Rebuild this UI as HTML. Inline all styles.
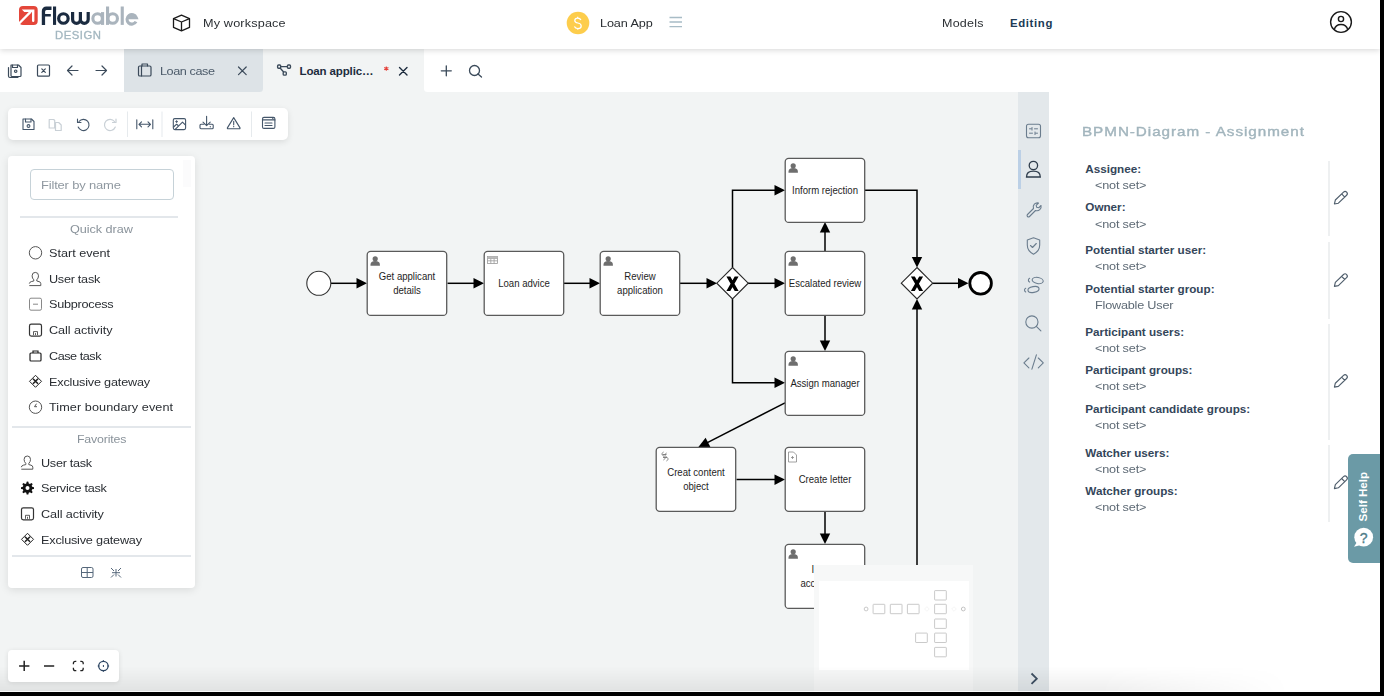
<!DOCTYPE html>
<html><head><meta charset="utf-8">
<style>
*{box-sizing:border-box;margin:0;padding:0}
html,body{width:1384px;height:696px;overflow:hidden;background:#000;font-family:"Liberation Sans",sans-serif}
.abs{position:absolute}
#app{position:absolute;left:0;top:0;width:1380px;height:692px;background:#f2f4f4;overflow:hidden}
.t{position:absolute;white-space:nowrap;line-height:1}
svg{position:absolute;overflow:visible}
.ic{fill:none;stroke:#3b4a5a;stroke-width:1.3;stroke-linecap:round;stroke-linejoin:round}
.li{position:absolute;left:0;width:186px;height:20px}
.li .t{font-size:12.6px;color:#2a2e33;top:4px}
.lbl{position:absolute;left:1085px;font-size:11.7px;color:#2f3f50;font-weight:bold;white-space:nowrap;line-height:1}
.val{position:absolute;left:1094.8px;font-size:12.2px;color:#5e6a75;white-space:nowrap;line-height:1}
.sep{position:absolute;left:1328px;width:1.5px;background:#eef0f1}
</style></head><body>
<div id="app">

<!-- canvas diagram -->
<svg id="diagram" style="left:0;top:0" width="1380" height="692" viewBox="0 0 1380 692">
<polyline points="331.0,283.3 360.0,283.3" fill="none" stroke="#000" stroke-width="1.5"/>
<polygon points="367.0,283.3 356.5,278.1 356.5,288.6" fill="#000"/>
<polyline points="447.5,283.3 477.0,283.3" fill="none" stroke="#000" stroke-width="1.5"/>
<polygon points="484.0,283.3 473.5,278.1 473.5,288.6" fill="#000"/>
<polyline points="563.5,283.3 593.0,283.3" fill="none" stroke="#000" stroke-width="1.5"/>
<polygon points="600.0,283.3 589.5,278.1 589.5,288.6" fill="#000"/>
<polyline points="680.0,283.3 710.0,283.3" fill="none" stroke="#000" stroke-width="1.5"/>
<polygon points="717.0,283.3 706.5,278.1 706.5,288.6" fill="#000"/>
<polyline points="732.5,267.5 732.5,190.2 778.0,190.2" fill="none" stroke="#000" stroke-width="1.5"/>
<polygon points="785.0,190.2 774.5,184.9 774.5,195.4" fill="#000"/>
<polyline points="748.0,283.3 778.0,283.3" fill="none" stroke="#000" stroke-width="1.5"/>
<polygon points="785.0,283.3 774.5,278.1 774.5,288.6" fill="#000"/>
<polyline points="732.5,299.0 732.5,382.7 778.0,382.7" fill="none" stroke="#000" stroke-width="1.5"/>
<polygon points="785.0,382.7 774.5,377.4 774.5,387.9" fill="#000"/>
<polyline points="825.0,251.0 825.0,229.0" fill="none" stroke="#000" stroke-width="1.5"/>
<polygon points="825.0,222.0 819.8,232.5 830.2,232.5" fill="#000"/>
<polyline points="825.0,315.5 825.0,344.0" fill="none" stroke="#000" stroke-width="1.5"/>
<polygon points="825.0,351.0 819.8,340.5 830.2,340.5" fill="#000"/>
<line x1="785.0" y1="402.8" x2="706.9" y2="442.9" stroke="#000" stroke-width="1.5"/>
<polygon points="698.2,447.3 705.6,437.7 710.4,446.9" fill="#000"/>
<polyline points="736.5,479.6 778.0,479.6" fill="none" stroke="#000" stroke-width="1.5"/>
<polygon points="785.0,479.6 774.5,474.4 774.5,484.9" fill="#000"/>
<polyline points="825.0,511.5 825.0,537.0" fill="none" stroke="#000" stroke-width="1.5"/>
<polygon points="825.0,544.0 819.8,533.5 830.2,533.5" fill="#000"/>
<polyline points="865.0,190.2 917.0,190.2 917.0,260.0" fill="none" stroke="#000" stroke-width="1.5"/>
<polygon points="917.0,267.5 911.8,257.0 922.2,257.0" fill="#000"/>
<polyline points="917.0,306.0 917.0,600.0" fill="none" stroke="#000" stroke-width="1.5"/>
<polygon points="917.0,299.0 911.8,309.5 922.2,309.5" fill="#000"/>
<polyline points="933.0,283.3 961.0,283.3" fill="none" stroke="#000" stroke-width="1.5"/>
<polygon points="968.5,283.3 958.0,278.1 958.0,288.6" fill="#000"/>
<circle cx="318.8" cy="283.3" r="12" fill="#fff" stroke="#333" stroke-width="1.1"/>
<circle cx="980.6" cy="283.3" r="10.8" fill="#fff" stroke="#000" stroke-width="2.8"/>
<polygon points="732.5,267.5 748.2,283.2 732.5,298.9 716.8,283.2" fill="#fff" stroke="#2a2a2a" stroke-width="1.15"/>
<path d="M726.40 276.40 H730.30 L738.60 291.00 H734.70 Z M734.70 276.40 H738.60 L730.30 291.00 H726.40 Z" fill="#000"/>
<polygon points="917.0,267.5 932.7,283.2 917.0,298.9 901.3,283.2" fill="#fff" stroke="#2a2a2a" stroke-width="1.15"/>
<path d="M910.90 276.40 H914.80 L923.10 291.00 H919.20 Z M919.20 276.40 H923.10 L914.80 291.00 H910.90 Z" fill="#000"/>
<rect x="367.2" y="251.4" width="79.5" height="64" rx="3.5" fill="#fff" stroke="#5a5a5a" stroke-width="1.3"/>
<g fill="#6e6e6e"><circle cx="375.2" cy="258.8" r="2.6"/><path d="M370.5 264.7 q0-3.6 4.7-3.6 q4.7 0 4.7 3.6 v1 h-9.4z"/></g>
<text transform="translate(407.0 279.9) scale(0.9,1)" text-anchor="middle" font-size="10.65" fill="#1e1e1e">Get applicant</text>
<text transform="translate(407.0 294.1) scale(0.9,1)" text-anchor="middle" font-size="10.65" fill="#1e1e1e">details</text>
<rect x="484.2" y="251.4" width="79.5" height="64" rx="3.5" fill="#fff" stroke="#5a5a5a" stroke-width="1.3"/>
<g fill="none" stroke="#9a9a9a" stroke-width="0.8"><rect x="487.5" y="256.5" width="10" height="7"/><path d="M487.5 258.5h10M487.5 260.8h10M490.8 256.5v7M494.1 256.5v7"/></g>
<rect x="487.5" y="256.5" width="10" height="2" fill="#bbb"/>
<text transform="translate(524.0 287.0) scale(0.9,1)" text-anchor="middle" font-size="10.65" fill="#1e1e1e">Loan advice</text>
<rect x="600.2" y="251.4" width="79.5" height="64" rx="3.5" fill="#fff" stroke="#5a5a5a" stroke-width="1.3"/>
<g fill="#6e6e6e"><circle cx="608.2" cy="258.8" r="2.6"/><path d="M603.5 264.7 q0-3.6 4.7-3.6 q4.7 0 4.7 3.6 v1 h-9.4z"/></g>
<text transform="translate(640.0 279.9) scale(0.9,1)" text-anchor="middle" font-size="10.65" fill="#1e1e1e">Review</text>
<text transform="translate(640.0 294.1) scale(0.9,1)" text-anchor="middle" font-size="10.65" fill="#1e1e1e">application</text>
<rect x="785.2" y="158.4" width="79.5" height="64" rx="3.5" fill="#fff" stroke="#5a5a5a" stroke-width="1.3"/>
<g fill="#6e6e6e"><circle cx="793.2" cy="165.8" r="2.6"/><path d="M788.5 171.7 q0-3.6 4.7-3.6 q4.7 0 4.7 3.6 v1 h-9.4z"/></g>
<text transform="translate(825.0 194.0) scale(0.9,1)" text-anchor="middle" font-size="10.65" fill="#1e1e1e">Inform rejection</text>
<rect x="785.2" y="251.4" width="79.5" height="64" rx="3.5" fill="#fff" stroke="#5a5a5a" stroke-width="1.3"/>
<g fill="#6e6e6e"><circle cx="793.2" cy="258.8" r="2.6"/><path d="M788.5 264.7 q0-3.6 4.7-3.6 q4.7 0 4.7 3.6 v1 h-9.4z"/></g>
<text transform="translate(825.0 287.0) scale(0.9,1)" text-anchor="middle" font-size="10.65" fill="#1e1e1e">Escalated review</text>
<rect x="785.2" y="351.4" width="79.5" height="64" rx="3.5" fill="#fff" stroke="#5a5a5a" stroke-width="1.3"/>
<g fill="#6e6e6e"><circle cx="793.2" cy="358.8" r="2.6"/><path d="M788.5 364.7 q0-3.6 4.7-3.6 q4.7 0 4.7 3.6 v1 h-9.4z"/></g>
<text transform="translate(825.0 387.0) scale(0.9,1)" text-anchor="middle" font-size="10.65" fill="#1e1e1e">Assign manager</text>
<rect x="656.2" y="447.4" width="79.5" height="64" rx="3.5" fill="#fff" stroke="#5a5a5a" stroke-width="1.3"/>
<path d="M663.5 452.0 c-2 1 -2 3 0 4 c2 1 2 3 0 4 M666.5 453.0 c-2 1 -2 3 0 4 c2 1 2 3 0 4 M662.5 454.5h4M663.0 457.5h4" fill="none" stroke="#777" stroke-width="0.9"/>
<text transform="translate(696.0 475.9) scale(0.9,1)" text-anchor="middle" font-size="10.65" fill="#1e1e1e">Creat content</text>
<text transform="translate(696.0 490.1) scale(0.9,1)" text-anchor="middle" font-size="10.65" fill="#1e1e1e">object</text>
<rect x="785.2" y="447.4" width="79.5" height="64" rx="3.5" fill="#fff" stroke="#5a5a5a" stroke-width="1.3"/>
<path d="M788.5 452.0 h5 l3 3 v7 h-8z M792.5 456.0 v3 M791.0 457.5 h3" fill="none" stroke="#888" stroke-width="0.8"/>
<text transform="translate(825.0 483.0) scale(0.9,1)" text-anchor="middle" font-size="10.65" fill="#1e1e1e">Create letter</text>
<rect x="785.2" y="544.4" width="79.5" height="64" rx="3.5" fill="#fff" stroke="#5a5a5a" stroke-width="1.3"/>
<g fill="#6e6e6e"><circle cx="793.2" cy="551.8" r="2.6"/><path d="M788.5 557.7 q0-3.6 4.7-3.6 q4.7 0 4.7 3.6 v1 h-9.4z"/></g>
<text transform="translate(825.0 572.9) scale(0.9,1)" text-anchor="middle" font-size="10.65" fill="#1e1e1e">Inform</text>
<text transform="translate(825.0 587.1) scale(0.9,1)" text-anchor="middle" font-size="10.65" fill="#1e1e1e">acceptance</text>
</svg>

<!-- canvas bottom shadow -->


<!-- minimap -->
<div class="abs" style="left:814px;top:565px;width:159px;height:127px;background:#f7f8f8;z-index:4"></div>
<div class="abs" style="left:818.5px;top:581px;width:150.5px;height:89px;background:#fff;z-index:5"></div>
<svg style="left:0;top:0;z-index:6" width="1380" height="692">
<rect x="873.1" y="604.3" width="11.7" height="9.4" fill="none" stroke="#c4c4c4" stroke-width="0.9" rx="0.5"/>
<rect x="890.3" y="604.3" width="11.7" height="9.4" fill="none" stroke="#c4c4c4" stroke-width="0.9" rx="0.5"/>
<rect x="907.4" y="604.3" width="11.7" height="9.4" fill="none" stroke="#c4c4c4" stroke-width="0.9" rx="0.5"/>
<rect x="934.6" y="590.6" width="11.7" height="9.4" fill="none" stroke="#c4c4c4" stroke-width="0.9" rx="0.5"/>
<rect x="934.6" y="604.3" width="11.7" height="9.4" fill="none" stroke="#c4c4c4" stroke-width="0.9" rx="0.5"/>
<rect x="934.6" y="619.0" width="11.7" height="9.4" fill="none" stroke="#c4c4c4" stroke-width="0.9" rx="0.5"/>
<rect x="915.6" y="633.1" width="11.7" height="9.4" fill="none" stroke="#c4c4c4" stroke-width="0.9" rx="0.5"/>
<rect x="934.6" y="633.1" width="11.7" height="9.4" fill="none" stroke="#c4c4c4" stroke-width="0.9" rx="0.5"/>
<rect x="934.6" y="647.4" width="11.7" height="9.4" fill="none" stroke="#c4c4c4" stroke-width="0.9" rx="0.5"/>
<circle cx="866.1" cy="609.0" r="1.9" fill="none" stroke="#bbb" stroke-width="0.8"/>
<circle cx="963.3" cy="609.0" r="1.9" fill="none" stroke="#bbb" stroke-width="0.9"/>
<path d="M926.9 606.7 l2.3 2.3 -2.3 2.3 -2.3 -2.3z" fill="none" stroke="#eee" stroke-width="0.6"/>
<path d="M954.0 606.7 l2.3 2.3 -2.3 2.3 -2.3 -2.3z" fill="none" stroke="#eee" stroke-width="0.6"/>
</svg>

<!-- toolbar -->
<div class="abs" style="left:8px;top:108px;width:280px;height:32px;background:#fff;border-radius:5px;box-shadow:0 2px 6px rgba(0,0,0,0.10);z-index:8"></div>
<svg style="left:0;top:0;z-index:9" width="300" height="150">

<g class="ic" style="stroke:#44566a;stroke-width:1.1">
 <!-- save -->
 <path d="M23 119 h8.5 l2.5 2.5 v8 h-11 z"/>
 <path d="M25.5 119 v3 h5.5 v-3"/>
 <circle cx="28.5" cy="126" r="1.4"/>
 <!-- undo -->
 <path d="M79 121.5 a5.6 5.6 0 1 1 -0.8 5.5"/>
 <path d="M77.5 119 v3.5 h3.5"/>
 <!-- fit -->
 <path d="M136.8 119.8 v9 M152.8 119.8 v9 M139 124.3 h11.5 M141.5 121.8 l-2.5 2.5 2.5 2.5 M148 121.8 l2.5 2.5 -2.5 2.5"/>
 <!-- image -->
 <rect x="173.3" y="118.6" width="12.3" height="11" rx="1.5"/>
 <path d="M173.6 127 l3-2.8 1.6 1.3"/>
 <path d="M175.2 129.4 l7.3-7.2 3 3"/>
 <path d="M176.6 120.6 v2 M175.6 121.6 h2" stroke-width="0.9"/>
 <!-- download -->
 <path d="M206.6 116.3 v9.3 M203 122.2 l3.6 3.4 3.6-3.4"/>
 <path d="M204 124.3 h-3 a1 1 0 0 0 -1 1 v2.4 a1 1 0 0 0 1 1 h11.2 a1 1 0 0 0 1 -1 v-2.4 a1 1 0 0 0 -1 -1 h-3"/>
 <path d="M210.3 126.6 v0.2" stroke-width="1.2"/>
 <!-- warning -->
 <path d="M233.7 117.6 l-6.3 10.3 a0.6 0.6 0 0 0 0.5 0.9 h11.6 a0.6 0.6 0 0 0 0.5 -0.9 z"/>
 <path d="M233.7 121.3 v3.4 M233.7 126.3 v0.4"/>
 <!-- window -->
 <rect x="262.5" y="117.4" width="12.4" height="11" rx="1.5"/>
 <path d="M262.5 119.9 h12.4 M265 123 h7 M265 125.5 h7"/>
 <path d="M272.3 118.2 l1 1 M273.3 118.2 l-1 1" stroke-width="0.7"/>
</g>
<g class="ic" style="stroke:#c9d0d6;stroke-width:1.2">
 <!-- copy disabled -->
 <path d="M49.2 119.5 h4.5 l1 1 v7.5 h-5.5 z"/>
 <path d="M55.5 122.5 h3.2 l2.5 2.5 v5.5 h-5.7 z"/>
 <!-- redo -->
 <path d="M114.5 121.5 a5.6 5.6 0 1 0 0.8 5.5"/>
 <path d="M116 119 v3.5 h-3.5"/>
</g>
<g fill="#e6eaed">
 <rect x="127" y="111.5" width="1" height="25.5"/>
 <rect x="161.5" y="111.5" width="1" height="25.5"/>
 <rect x="251" y="111.5" width="1" height="25.5"/>
</g>

</svg>

<!-- left palette -->
<div class="abs" style="left:8.3px;top:156px;width:186.4px;height:432.2px;background:#fff;border-radius:4px;box-shadow:0 2px 8px rgba(0,0,0,0.10);z-index:8">
</div>
<div class="abs" style="left:0;top:0;z-index:9">
  <div class="abs" style="left:183px;top:160px;width:8px;height:27px;background:#fbfbfc"></div>
  <div class="abs" style="left:30px;top:169px;width:143.5px;height:30.5px;border:1px solid #c6d2d8;border-radius:4px;background:#fff"></div>
  <div class="t" style="left:41.20px;top:180px;font-size:11.80px;font-weight:400;color:#8f98a0;letter-spacing:-0.162px;transform:scaleX(1.100);transform-origin:0 0;">Filter by name</div>
  <div class="abs" style="left:20px;top:216px;width:157.5px;height:2px;background:#e3e7eb"></div>
  <div class="t" style="left:70.10px;top:224px;font-size:11.52px;font-weight:400;color:#8a939b;letter-spacing:-0.050px;transform:scaleX(1.100);transform-origin:0 0;">Quick draw</div>
  <div class="t" style="left:48.80px;top:248px;font-size:11.52px;font-weight:400;color:#2a2e33;letter-spacing:-0.018px;transform:scaleX(1.100);transform-origin:0 0;">Start event</div>
<div class="t" style="left:48.80px;top:274px;font-size:11.52px;font-weight:400;color:#2a2e33;letter-spacing:-0.253px;transform:scaleX(1.100);transform-origin:0 0;">User task</div>
<div class="t" style="left:48.80px;top:299px;font-size:11.52px;font-weight:400;color:#2a2e33;letter-spacing:-0.226px;transform:scaleX(1.100);transform-origin:0 0;">Subprocess</div>
<div class="t" style="left:48.80px;top:325px;font-size:11.52px;font-weight:400;color:#2a2e33;letter-spacing:-0.045px;transform:scaleX(1.100);transform-origin:0 0;">Call activity</div>
<div class="t" style="left:48.80px;top:351px;font-size:11.52px;font-weight:400;color:#2a2e33;letter-spacing:-0.427px;transform:scaleX(1.100);transform-origin:0 0;">Case task</div>
<div class="t" style="left:48.80px;top:377px;font-size:11.52px;font-weight:400;color:#2a2e33;letter-spacing:-0.174px;transform:scaleX(1.100);transform-origin:0 0;">Exclusive gateway</div>
<div class="t" style="left:48.80px;top:402px;font-size:11.52px;font-weight:400;color:#2a2e33;letter-spacing:0.066px;transform:scaleX(1.100);transform-origin:0 0;">Timer boundary event</div>
<div class="t" style="left:40.80px;top:458px;font-size:11.52px;font-weight:400;color:#2a2e33;letter-spacing:-0.265px;transform:scaleX(1.100);transform-origin:0 0;">User task</div>
<div class="t" style="left:40.80px;top:483px;font-size:11.52px;font-weight:400;color:#2a2e33;letter-spacing:-0.259px;transform:scaleX(1.100);transform-origin:0 0;">Service task</div>
<div class="t" style="left:40.80px;top:509px;font-size:11.52px;font-weight:400;color:#2a2e33;letter-spacing:-0.090px;transform:scaleX(1.100);transform-origin:0 0;">Call activity</div>
<div class="t" style="left:40.80px;top:535px;font-size:11.52px;font-weight:400;color:#2a2e33;letter-spacing:-0.180px;transform:scaleX(1.100);transform-origin:0 0;">Exclusive gateway</div>
<svg style="left:0;top:0" width="200" height="600"><circle cx="35.5" cy="252.8" r="6.2" fill="none" stroke="#555" stroke-width="1"/>
<path d="M35.5 278.8" fill="none"/><g fill="none" stroke="#555" stroke-width="1"><path d="M29.3 285.6 h11.5 v-2 q0-1.6-1.8-2 l-2.2-0.6 v-1.2 q1.7-1.5 1.7-4 q0-3.4-3.2-3.4 q-3.2 0-3.2 3.4 q0 2.5 1.7 4 v1.2 l-2.5 0.6 q-1.8 0.5-2 2"/></g>
<g fill="none" stroke="#888" stroke-width="1"><rect x="29.5" y="298.2" width="12" height="12" rx="1.5"/><path d="M33.0 304.2 h5"/></g>
<g fill="none" stroke="#333" stroke-width="1.2"><rect x="29.5" y="324.1" width="12" height="12" rx="1.8"/><path d="M33.5 335.1 v-3.5 h4 v3.5 M35.5 335.1 v-2" stroke-width="0.8"/></g>
<g fill="none" stroke="#222" stroke-width="1.2"><rect x="30.0" y="353.0" width="11" height="8" rx="1"/><path d="M33.0 353.0 v-2 h5 v2"/></g>
<g fill="none" stroke="#222" stroke-width="1"><path d="M35.5 375.3 l6 6 -6 6 -6 -6z"/><path d="M33.0 378.8 l5 5 M38.0 378.8 l-5 5" stroke-width="1.6"/></g>
<g fill="none" stroke="#555" stroke-width="1"><circle cx="35.5" cy="407.2" r="6.2"/><path d="M36.5 403.7 l-2 3 h2.5"/></g>
<path d="M27.5 462.4" fill="none"/><g fill="none" stroke="#555" stroke-width="1"><path d="M21.3 469.2 h11.5 v-2 q0-1.6-1.8-2 l-2.2-0.6 v-1.2 q1.7-1.5 1.7-4 q0-3.4-3.2-3.4 q-3.2 0-3.2 3.4 q0 2.5 1.7 4 v1.2 l-2.5 0.6 q-1.8 0.5-2 2"/></g>
<polygon points="34.00,488.10 33.94,488.95 32.14,489.34 31.93,489.94 31.66,490.50 32.66,492.06 32.10,492.70 31.46,493.26 29.90,492.26 29.34,492.53 28.74,492.74 28.35,494.54 27.50,494.60 26.65,494.54 26.26,492.74 25.66,492.53 25.10,492.26 23.54,493.26 22.90,492.70 22.34,492.06 23.34,490.50 23.07,489.94 22.86,489.34 21.06,488.95 21.00,488.10 21.06,487.25 22.86,486.86 23.07,486.26 23.34,485.70 22.34,484.14 22.90,483.50 23.54,482.94 25.10,483.94 25.66,483.67 26.26,483.46 26.65,481.66 27.50,481.60 28.35,481.66 28.74,483.46 29.34,483.67 29.90,483.94 31.46,482.94 32.10,483.50 32.66,484.14 31.66,485.70 31.93,486.26 32.14,486.86 33.94,487.25" fill="#111"/><circle cx="27.5" cy="488.1" r="2" fill="#fff"/>
<g fill="none" stroke="#333" stroke-width="1.2"><rect x="21.5" y="507.8" width="12" height="12" rx="1.8"/><path d="M25.5 518.8 v-3.5 h4 v3.5 M27.5 518.8 v-2" stroke-width="0.8"/></g>
<g fill="none" stroke="#222" stroke-width="1"><path d="M27.5 533.3 l6 6 -6 6 -6 -6z"/><path d="M25.0 536.8 l5 5 M30.0 536.8 l-5 5" stroke-width="1.6"/></g>
<g fill="none" stroke="#55677a" stroke-width="1"><rect x="81.5" y="567.5" width="11.5" height="10" rx="1.5"/><path d="M81.5 572.5 h11.5 M87.2 567.5 v10"/></g>
<g fill="none" stroke="#55677a" stroke-width="1"><path d="M111 568 l3 3 M121 568 l-3 3 M111 577.5 l3 -3 M121 577.5 l-3 -3 M112 572.7 h8 M116 569 v7.5"/></g></svg>
  <div class="abs" style="left:12px;top:426px;width:179px;height:2px;background:#e3e7eb"></div>
  <div class="t" style="left:76.90px;top:434px;font-size:11.25px;font-weight:400;color:#8a939b;letter-spacing:-0.168px;transform:scaleX(1.100);transform-origin:0 0;">Favorites</div>
  <div class="abs" style="left:12px;top:555px;width:179px;height:2px;background:#e3e7eb"></div>
</div>

<!-- zoom controls -->
<div class="abs" style="left:8.4px;top:650.3px;width:110.5px;height:31.8px;background:#fff;border-radius:4px;box-shadow:0 1px 5px rgba(0,0,0,0.10);z-index:17"></div>
<svg style="left:0;top:0;z-index:18" width="130" height="692">

<g stroke="#222" stroke-width="1.5" fill="none">
 <path d="M24.2 660.8 v10.3 M19.1 666 h10.3"/>
 <path d="M44 666 h10.2"/>
 <path d="M73.4 664.2 v-1 a1.9 1.9 0 0 1 1.9 -1.9 h1 M80.3 661.3 h1 a1.9 1.9 0 0 1 1.9 1.9 v1 M83.2 667.8 v1 a1.9 1.9 0 0 1 -1.9 1.9 h-1 M76.3 670.7 h-1 a1.9 1.9 0 0 1 -1.9 -1.9 v-1" stroke-width="1.3"/>
</g>
<g stroke="#2c4562" stroke-width="1.3" fill="none">
 <circle cx="103.4" cy="666" r="4.7"/>
 <path d="M103.4 660.3 v1.6 M103.4 670.1 v1.6 M97.7 666 h1.6 M107.5 666 h1.6" stroke-width="1.2"/>
 <path d="M103.4 665 v2" stroke-width="1"/>
</g>

</svg>

<!-- sidebar -->
<div class="abs" style="left:1018px;top:92px;width:31px;height:600px;background:#e3e8eb;z-index:10"></div>
<div class="abs" style="left:1018px;top:150px;width:2.5px;height:39px;background:#bcd0e6;z-index:11"></div>
<svg style="left:0;top:0;z-index:11" width="1380" height="692">

<g fill="none" stroke="#6b7d8e" stroke-width="1.1" stroke-linecap="round" stroke-linejoin="round">
 <rect x="1026.5" y="124.3" width="14" height="13.5" rx="2"/>
 <path d="M1029.5 128.8 h2 M1034.5 128.8 h3 M1032 127.5 v2.6 M1029.5 133.2 h3 M1035.5 133.2 h2 M1035 132 v2.6" stroke-width="1"/>
</g>
<g fill="none" stroke="#2f3d4c" stroke-width="1.3">
 <circle cx="1033.4" cy="165.5" r="4.2"/>
 <path d="M1026.5 177 h13.8 q0-5.8-6.9-5.8 q-6.9 0-6.9 5.8z"/>
</g>
<g fill="none" stroke="#6b7d8e" stroke-width="1.1" stroke-linecap="round" stroke-linejoin="round">
 <path d="M1027.5 214.5 l6-6 a4.2 4.2 0 0 1 5-5.5 l-2.3 2.3 0.5 2 2 0.5 2.3-2.3 a4.2 4.2 0 0 1 -5.5 5 l-6 6 a1.4 1.4 0 0 1 -2-2z"/>
 <path d="M1033.5 237.8 l6.2 2.2 v5 q0 6-6.2 9.2 q-6.2-3.2-6.2-9.2 v-5z"/>
 <path d="M1030.5 245.5 l2 2 3.8-4"/>
 <ellipse cx="1037.7" cy="280.5" rx="5.6" ry="3" transform="rotate(10 1037.7 280.5)"/>
 <ellipse cx="1033.5" cy="289.5" rx="5.6" ry="2.9" transform="rotate(-10 1033.5 289.5)"/>
 <path d="M1029.6 278.3 a2.1 2.1 0 0 0 0 3.8 M1025.7 288.2 a2.1 2.1 0 0 0 0 3.8"/>
 <circle cx="1031.9" cy="322" r="6.1"/>
 <path d="M1036.3 326.4 l4.6 4.4"/>
 <path d="M1028.9 358 l-5 4.9 5 4.9 M1038.3 358 l5 4.9 -5 4.9 M1036.4 354.8 l-4.5 14.4"/>
</g>
<path d="M1031.5 673.5 l5.3 5.2 -5.3 5.2" fill="none" stroke="#3e4f62" stroke-width="1.8"/>

</svg>

<!-- right panel -->
<div class="abs" style="left:1049px;top:92px;width:331px;height:600px;background:#fff;z-index:10"></div>
<div class="abs" style="left:0;top:666px;width:1380px;height:25px;background:linear-gradient(to bottom,rgba(0,0,0,0),rgba(0,0,0,0.065));-webkit-mask-image:linear-gradient(to right,#000 0,#000 1100px,transparent 1290px);z-index:16"></div>
<div class="abs" style="left:0;top:691px;width:1380px;height:1px;background:rgba(255,255,255,0.7);z-index:16"></div>
<div class="abs" style="left:0;top:0;z-index:12">
  <div class="t" style="left:1081.5px;top:125px;font-size:13.6px;color:#a2b5bd;letter-spacing:0.86px;transform:scaleX(1.12);transform-origin:0 0;-webkit-text-stroke:0.4px #a2b5bd">BPMN-Diagram - Assignment</div>
  <div class="t" style="left:1085.30px;top:163px;font-size:11.70px;font-weight:700;color:#34465a;letter-spacing:0.000px;transform:scaleX(1.000);transform-origin:0 0;">Assignee:</div>
<div class="t" style="left:1094.70px;top:180px;font-size:11.52px;font-weight:400;color:#5e6a75;letter-spacing:-0.165px;transform:scaleX(1.100);transform-origin:0 0;">&lt;not set&gt;</div>
<div class="t" style="left:1085.30px;top:201px;font-size:11.70px;font-weight:700;color:#34465a;letter-spacing:0.000px;transform:scaleX(1.000);transform-origin:0 0;">Owner:</div>
<div class="t" style="left:1094.70px;top:219px;font-size:11.52px;font-weight:400;color:#5e6a75;letter-spacing:-0.165px;transform:scaleX(1.100);transform-origin:0 0;">&lt;not set&gt;</div>
<div class="t" style="left:1085.30px;top:244px;font-size:11.70px;font-weight:700;color:#34465a;letter-spacing:0.000px;transform:scaleX(1.000);transform-origin:0 0;">Potential starter user:</div>
<div class="t" style="left:1094.70px;top:261px;font-size:11.52px;font-weight:400;color:#5e6a75;letter-spacing:-0.165px;transform:scaleX(1.100);transform-origin:0 0;">&lt;not set&gt;</div>
<div class="t" style="left:1085.30px;top:283px;font-size:11.70px;font-weight:700;color:#34465a;letter-spacing:0.000px;transform:scaleX(1.000);transform-origin:0 0;">Potential starter group:</div>
<div class="t" style="left:1094.70px;top:300px;font-size:11.52px;font-weight:400;color:#5e6a75;letter-spacing:-0.190px;transform:scaleX(1.100);transform-origin:0 0;">Flowable User</div>
<div class="t" style="left:1085.30px;top:326px;font-size:11.70px;font-weight:700;color:#34465a;letter-spacing:0.000px;transform:scaleX(1.000);transform-origin:0 0;">Participant users:</div>
<div class="t" style="left:1094.70px;top:343px;font-size:11.52px;font-weight:400;color:#5e6a75;letter-spacing:-0.165px;transform:scaleX(1.100);transform-origin:0 0;">&lt;not set&gt;</div>
<div class="t" style="left:1085.30px;top:364px;font-size:11.70px;font-weight:700;color:#34465a;letter-spacing:0.000px;transform:scaleX(1.000);transform-origin:0 0;">Participant groups:</div>
<div class="t" style="left:1094.70px;top:381px;font-size:11.52px;font-weight:400;color:#5e6a75;letter-spacing:-0.165px;transform:scaleX(1.100);transform-origin:0 0;">&lt;not set&gt;</div>
<div class="t" style="left:1085.30px;top:403px;font-size:11.70px;font-weight:700;color:#34465a;letter-spacing:0.000px;transform:scaleX(1.000);transform-origin:0 0;">Participant candidate groups:</div>
<div class="t" style="left:1094.70px;top:420px;font-size:11.52px;font-weight:400;color:#5e6a75;letter-spacing:-0.165px;transform:scaleX(1.100);transform-origin:0 0;">&lt;not set&gt;</div>
<div class="t" style="left:1085.30px;top:447px;font-size:11.70px;font-weight:700;color:#34465a;letter-spacing:0.000px;transform:scaleX(1.000);transform-origin:0 0;">Watcher users:</div>
<div class="t" style="left:1094.70px;top:464px;font-size:11.52px;font-weight:400;color:#5e6a75;letter-spacing:-0.165px;transform:scaleX(1.100);transform-origin:0 0;">&lt;not set&gt;</div>
<div class="t" style="left:1085.30px;top:485px;font-size:11.70px;font-weight:700;color:#34465a;letter-spacing:0.000px;transform:scaleX(1.000);transform-origin:0 0;">Watcher groups:</div>
<div class="t" style="left:1094.70px;top:502px;font-size:11.52px;font-weight:400;color:#5e6a75;letter-spacing:-0.165px;transform:scaleX(1.100);transform-origin:0 0;">&lt;not set&gt;</div>
<div class="sep" style="top:160.7px;height:75.8px"></div>
<svg style="left:0;top:0" width="1380" height="692"><g transform="translate(1340.6 198.0) rotate(-44)"><path d="M-8.6 0 L-5.2 -2.2 H6.2 a2.2 2.2 0 0 1 0 4.4 H-5.2 Z M3.6 -2.2 V2.2" fill="none" stroke="#4f5e6c" stroke-width="1.15" stroke-linejoin="round"/></g></svg>
<div class="sep" style="top:241.7px;height:77.6px"></div>
<svg style="left:0;top:0" width="1380" height="692"><g transform="translate(1340.6 280.4) rotate(-44)"><path d="M-8.6 0 L-5.2 -2.2 H6.2 a2.2 2.2 0 0 1 0 4.4 H-5.2 Z M3.6 -2.2 V2.2" fill="none" stroke="#4f5e6c" stroke-width="1.15" stroke-linejoin="round"/></g></svg>
<div class="sep" style="top:324.0px;height:116.3px"></div>
<svg style="left:0;top:0" width="1380" height="692"><g transform="translate(1340.6 381.2) rotate(-44)"><path d="M-8.6 0 L-5.2 -2.2 H6.2 a2.2 2.2 0 0 1 0 4.4 H-5.2 Z M3.6 -2.2 V2.2" fill="none" stroke="#4f5e6c" stroke-width="1.15" stroke-linejoin="round"/></g></svg>
<div class="sep" style="top:444.5px;height:77.0px"></div>
<svg style="left:0;top:0" width="1380" height="692"><g transform="translate(1340.6 482.6) rotate(-44)"><path d="M-8.6 0 L-5.2 -2.2 H6.2 a2.2 2.2 0 0 1 0 4.4 H-5.2 Z M3.6 -2.2 V2.2" fill="none" stroke="#4f5e6c" stroke-width="1.15" stroke-linejoin="round"/></g></svg>
</div>
<!-- self help -->
<div class="abs" style="left:1347.5px;top:453.5px;width:40px;height:109px;background:#6b9aa6;border-radius:5px;z-index:13"></div>
<div class="abs" style="left:1356.8px;top:473.3px;width:12px;height:49px;z-index:14"><div class="t" style="left:-18.5px;top:18px;width:49px;height:12px;font-size:11.6px;font-weight:bold;color:#fff;transform:rotate(-90deg);text-align:center;line-height:12px">Self Help</div></div>
<svg style="left:0;top:0;z-index:14" width="1380" height="692">
  <circle cx="1363.7" cy="537.2" r="9.4" fill="#fff"/><path d="M1357 542 L1354 546.8 L1361 545z" fill="#fff"/>
  <text x="1363.6" y="542.6" text-anchor="middle" font-size="14" fill="#4f7d89" stroke="#4f7d89" stroke-width="0.35">?</text>
</svg>

<!-- header -->
<div class="abs" style="left:0;top:0;width:1380px;height:49px;background:#fff;box-shadow:0 1px 6px rgba(0,0,0,0.17);z-index:30"></div>
<div class="abs" style="left:0;top:0;z-index:31">

<svg style="left:0;top:0" width="1380" height="49">
  <!-- flowable logo icon -->
  <rect x="19" y="6.1" width="18.7" height="18.8" rx="4" fill="#e4463a"/>
  <path d="M21.8 9.6 H34.4 V20.8 a1.2 1.2 0 0 1 -2.4 0 V12 H24.3 Z" fill="#fff"/>
  <path d="M17.6 25 L30.8 11.6" stroke="#fff" stroke-width="2.3"/>
  <!-- cube -->
  <g fill="none" stroke="#1a1a1a" stroke-width="1.3" stroke-linejoin="round">
    <path d="M181.5 15.2 L189.5 18.6 V27.4 L181.5 30.8 L173.5 27.4 V18.6 Z"/>
    <path d="M173.5 18.6 L181.5 22 L189.5 18.6 M181.5 22 V30.8"/>
  </g>
  <circle cx="578" cy="23" r="11.3" fill="#fdcd4c"/>
  <path d="M580.9 19.9 q-0.8-1.9-3.2-1.9 q-2.9 0-2.9 2.4 q0 2.1 3.1 2.6 q3.3 0.6 3.3 2.9 q0 2.6-3.3 2.6 q-2.6 0-3.5-2.1 M577.7 16.8 v1.4 M577.7 28.3 v1.5" fill="none" stroke="#fff" stroke-width="1.25"/>
  <g fill="none" stroke="#1a1a1a" stroke-width="1.4">
   <circle cx="1341" cy="22" r="10.4"/>
   <circle cx="1341" cy="19" r="2.6"/>
   <path d="M1334.2 29.8 Q1335.5 24.5 1341 24.5 Q1346.5 24.5 1347.8 29.8"/>
  </g>
  <g stroke="#a8bcc6" stroke-width="1.4">
   <path d="M669.5 17.5h12.5M669.5 22h12.5M669.5 26.6h12.5"/>
  </g>
</svg>
<svg style="left:0;top:0" width="150" height="30">
 <g fill="#1b2b40">
  <path d="M41.8 24.9 V11 a4.5 4.5 0 0 1 4.5 -4.5 H51.5 V9.9 H46.6 a1.5 1.5 0 0 0 -1.5 1.5 V14 H50.8 V16.6 H45.1 V24.9 Z"/>
  <rect x="53" y="6.5" width="3.1" height="18.4"/>
 </g>
 <g fill="none" stroke="#1b2b40" stroke-width="3.2">
  <circle cx="63.4" cy="18.5" r="4.75"/>
  <path d="M72.6 12.1 V19.4 A3.9 3.9 0 0 0 80.4 19.4 V12.1 M80.4 19.4 A3.9 3.9 0 0 0 88.2 19.4 V12.1"/>
 </g>
 <g fill="none" stroke="#aab4bd" stroke-width="3.1">
  <circle cx="97.6" cy="18.5" r="4.75"/>
  <circle cx="112.7" cy="18.5" r="4.75"/>
  <path d="M136 21.6 A4.75 4.75 0 1 1 136.2 17.6 H127.5"/>
 </g>
 <g fill="#aab4bd">
  <rect x="101" y="12.1" width="3.1" height="12.8"/>
  <rect x="106" y="6.5" width="3.1" height="18.4"/>
  <rect x="120.7" y="6.5" width="3.1" height="18.4"/>
 </g>
</svg>
<div class="t" style="left:55.00px;top:31px;font-size:10.29px;font-weight:400;color:#a3b7c0;letter-spacing:0.475px;transform:scaleX(1.100);transform-origin:0 0;-webkit-text-stroke:0.3px #a3b7c0">DESIGN</div><div class="t" style="left:203.30px;top:18px;font-size:11.52px;font-weight:400;color:#2b2f33;letter-spacing:0.140px;transform:scaleX(1.100);transform-origin:0 0;">My workspace</div><div class="t" style="left:599.50px;top:18px;font-size:11.52px;font-weight:400;color:#2b2f33;letter-spacing:-0.100px;transform:scaleX(1.100);transform-origin:0 0;">Loan App</div><div class="t" style="left:941.60px;top:18px;font-size:11.39px;font-weight:400;color:#2b2f33;letter-spacing:0.205px;transform:scaleX(1.100);transform-origin:0 0;">Models</div><div class="t" style="left:1009.90px;top:18px;font-size:11.39px;font-weight:700;color:#203a56;letter-spacing:0.654px;transform:scaleX(1.000);transform-origin:0 0;">Editing</div>


</div>

<!-- tab bar -->
<div class="abs" style="left:0;top:49px;width:1380px;height:43px;background:#f2f4f4;z-index:20"></div>
<div class="abs" style="left:0;top:49px;width:124px;height:43px;background:#fff;z-index:21"></div>
<div class="abs" style="left:124px;top:49px;width:139px;height:43px;background:#dde3e7;border-radius:0 0 3.5px 0;z-index:21"></div>
<div class="abs" style="left:424px;top:49px;width:956px;height:43px;background:#fff;border-radius:0 0 0 3.5px;z-index:21"></div>
<div class="abs" style="left:0;top:0;z-index:22">

<svg style="left:0;top:0" width="1380" height="92">
 <g class="ic" style="stroke:#3b4a5a;stroke-width:1.2">
  <!-- save all -->
  <path d="M11 65 h7.5 l2.5 2.5 v8 a1 1 0 0 1 -1 1 h-8 a1 1 0 0 1 -1 -1 z"/>
  <path d="M8.5 67.5 v8.5 a1.5 1.5 0 0 0 1.5 1.5 h8"/>
  <path d="M12.5 65 v2.5 h5 v-2.5"/>
  <circle cx="15.7" cy="71.2" r="1.2"/>
  <!-- close box -->
  <rect x="37.5" y="65" width="12" height="11.2" rx="1"/>
  <path d="M41.8 68.8 l3.5 3.5 M45.3 68.8 l-3.5 3.5"/>
  <!-- arrows -->
  <path d="M67.5 70.5 h10.5 M72 66 l-4.5 4.5 4.5 4.5"/>
  <path d="M96 70.5 h10.5 M102 66 l4.5 4.5 -4.5 4.5"/>
  <!-- briefcase -->
  <rect x="138.5" y="66" width="12.5" height="10" rx="1.3"/>
  <path d="M142 66 v-2 h5.5 v2 M141.5 66 v10"/>
  <!-- close -->
  <path d="M238.5 67 l7.7 7.7 M246.2 67 l-7.7 7.7"/>
  <!-- network -->
  <rect x="277.6" y="65" width="3.1" height="3.2" rx="0.9" style="stroke-width:1.35"/>
  <rect x="287.4" y="65" width="3.1" height="3.2" rx="0.9" style="stroke-width:1.35"/>
  <rect x="283.2" y="71.9" width="3.1" height="3.2" rx="0.9" style="stroke-width:1.35"/>
  <path d="M280.7 66.6 h6.7 M280.3 68.3 l3.1 3.4" style="stroke-width:1.35"/>
 </g>
 <g class="ic" style="stroke:#1d2c3e;stroke-width:1.4">
  <path d="M399.5 67.5 l7.5 7.5 M407 67.5 l-7.5 7.5"/>
 </g>
 <g class="ic" style="stroke:#3b4a5a;stroke-width:1.3">
  <path d="M446.3 65.8 v10 M441.3 70.8 h10"/>
  <circle cx="474.5" cy="70.5" r="5"/>
  <path d="M478 74 l3.5 3"/>
 </g>
 <path d="M386.3 66.5 v4.3 M384.2 67.6 l4.2 2.1 M388.4 67.6 l-4.2 2.1" stroke="#e5413a" stroke-width="1.1"/>
</svg>
<div class="t" style="left:159.90px;top:66px;font-size:11.52px;font-weight:400;color:#4c5b6a;letter-spacing:-0.385px;transform:scaleX(1.100);transform-origin:0 0;">Loan case</div>
<div class="t" style="left:299.60px;top:66px;font-size:11.52px;font-weight:700;color:#1d2c3e;letter-spacing:-0.149px;transform:scaleX(1.000);transform-origin:0 0;">Loan applic…</div>

</div>

</div>
</body></html>
